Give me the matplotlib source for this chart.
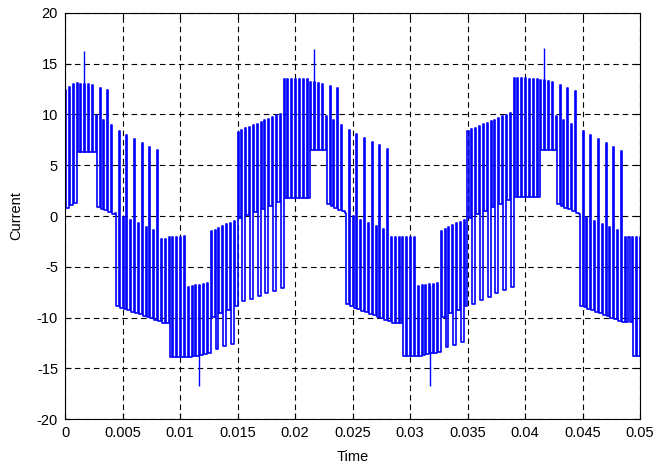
import numpy as np
import matplotlib
matplotlib.use("Agg")
import matplotlib.pyplot as plt

plt.rcParams['font.family'] = ['Liberation Sans', 'DejaVu Sans']

# Piecewise switching segments of the phase current (time in s, current in A).
# Each pulse rises to the upper level and falls back to the lower level;
# *_alt levels are used by every other pulse inside a segment (NaN = unused).
seg_start = [0.0000, 0.0009, 0.0026, 0.0043, 0.0081, 0.0089, 0.0106, 0.0125,
             0.0148, 0.0189, 0.0210, 0.0224, 0.0243, 0.0283, 0.0290, 0.0306, 0.0326,
             0.0348, 0.0388, 0.0411, 0.0424, 0.0444, 0.0484, 0.0490]
seg_end = seg_start[1:] + [0.0500]

hi_start = [12.4, 13.1, 10.0, 0.3, -2.3, -2.1, -7.0, -1.6,
            8.2, 13.5, 13.3, 10.0, 0.3, -2.1, -2.1, -6.9, -1.5,
            8.3, 13.6, 13.5, 10.0, 0.3, -2.1, -2.1]
hi_end = [13.2, 12.9, 8.8, -1.6, -2.3, -2.0, -6.6, -0.4,
          10.2, 13.5, 13.0, 8.8, -1.6, -2.1, -2.1, -6.6, -0.3,
          10.2, 13.5, 13.2, 8.8, -1.6, -2.1, -2.1]
hi_alt_start = [np.nan, np.nan, 12.8, 8.6, np.nan, np.nan, np.nan, np.nan,
                np.nan, np.nan, np.nan, 13.1, 8.7, np.nan, np.nan, np.nan, np.nan,
                np.nan, np.nan, np.nan, 13.2, 8.7, np.nan, np.nan]
hi_alt_end = [np.nan, np.nan, 12.2, 6.4, np.nan, np.nan, np.nan, np.nan,
              np.nan, np.nan, np.nan, 12.3, 6.4, np.nan, np.nan, np.nan, np.nan,
              np.nan, np.nan, np.nan, 12.3, 6.4, np.nan, np.nan]

lo_start = [0.8, 6.3, 0.9, -8.9, -10.5, -13.9, -13.9, -10.0,
            -0.3, 1.8, 6.5, 1.3, -8.7, -10.5, -13.8, -13.8, -10.0,
            -0.3, 1.9, 6.5, 1.3, -8.7, -10.4, -13.8]
lo_end = [1.5, 6.3, 0.1, -10.4, -10.5, -13.9, -13.5, -8.8,
          1.6, 1.8, 6.5, 0.3, -10.5, -10.5, -13.8, -13.3, -8.8,
          1.8, 1.9, 6.5, 0.3, -10.5, -10.4, -13.8]
lo_alt_start = [np.nan, np.nan, np.nan, np.nan, np.nan, np.nan, np.nan, -13.3,
                -8.6, np.nan, np.nan, np.nan, np.nan, np.nan, np.nan, np.nan, -13.0,
                -8.9, np.nan, np.nan, np.nan, np.nan, np.nan, np.nan]
lo_alt_end = [np.nan, np.nan, np.nan, np.nan, np.nan, np.nan, np.nan, -12.4,
              -7.0, np.nan, np.nan, np.nan, np.nan, np.nan, np.nan, np.nan, -12.3,
              -6.9, np.nan, np.nan, np.nan, np.nan, np.nan, np.nan]

# isolated switching spikes
spike_t = [0.00162, 0.01168, 0.02168, 0.03174, 0.04165]
spike_from = [6.3, -7.0, 6.5, -6.9, 6.5]
spike_to = [16.3, -16.7, 16.5, -16.7, 16.6]

f_switch = 3000.0      # carrier frequency, Hz
duty = 0.3             # fraction of a carrier period spent at the upper level

xtick_vals = [0, 0.005, 0.01, 0.015, 0.02, 0.025, 0.03, 0.035, 0.04, 0.045, 0.05]
xtick_labels = ['0', '0.005', '0.01', '0.015', '0.02', '0.025', '0.03',
                '0.035', '0.04', '0.045', '0.05']
ytick_vals = [-20, -15, -10, -5, 0, 5, 10, 15, 20]
ytick_labels = ['-20', '-15', '-10', '-5', '0', '5', '10', '15', '20']


def level(t, i, a, b):
    s, e = seg_start[i], seg_end[i]
    return a[i] + (t - s) / (e - s) * (b[i] - a[i])


# build the switched current trace
T = 1.0 / f_switch
w = duty * T
xs, ys = [], []
prev_bot = lo_start[0]
t0 = 0.0
k = 0
seg_counter = {}
while t0 < seg_end[-1]:
    i = np.searchsorted(seg_start, t0, side='right') - 1
    n = seg_counter.get(i, 0)
    seg_counter[i] = n + 1
    top = level(t0, i, hi_start, hi_end)
    bot = level(t0, i, lo_start, lo_end)
    if n % 2 == 1 and not np.isnan(hi_alt_start[i]):
        top = level(t0, i, hi_alt_start, hi_alt_end)
    if n % 2 == 1 and not np.isnan(lo_alt_start[i]):
        bot = level(t0, i, lo_alt_start, lo_alt_end)
    xs += [t0, t0, t0 + w, t0 + w]
    ys += [prev_bot, top, top, bot]
    prev_bot = bot
    k += 1
    t0 = k * T
xs.append(seg_end[-1])
ys.append(prev_bot)

fig = plt.figure(figsize=(6.6, 4.69), dpi=100)
ax = fig.add_axes([65 / 660, 50 / 469, 575 / 660, 406 / 469])

ax.plot(xs, ys, color='#0000ff', linewidth=1.2)
ax.vlines(spike_t, spike_from, spike_to, color='#0000ff', linewidth=1.0)

ax.set_xlim(0, 0.05)
ax.set_ylim(-20, 20)
ax.set_xticks(xtick_vals)
ax.set_xticklabels(xtick_labels)
ax.set_yticks(ytick_vals)
ax.set_yticklabels(ytick_labels)
ax.tick_params(direction='in', length=4, width=0.8, labelsize=10.5,
               top=True, right=True, pad=5)
ax.grid(True, color='black', linestyle=(0, (5, 3.5)), linewidth=0.8)
ax.set_axisbelow(True)
for sp in ax.spines.values():
    sp.set_linewidth(0.8)
    sp.set_color('black')

ax.set_xlabel('Time', fontsize=10.5, labelpad=7)
ax.set_ylabel('Current', fontsize=10.5, labelpad=10)

fig.savefig('out.png', dpi=100, facecolor='white')
